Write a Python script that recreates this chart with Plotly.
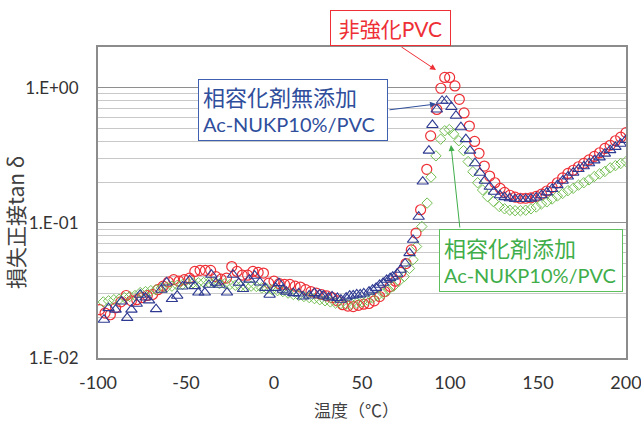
import plotly.graph_objects as go

# ---- data ----
T_red = [-99, -96, -93, -90, -87, -84, -81, -78, -75, -72, -69, -66, -63, -60, -57, -54, -51, -48,
         -45, -42, -39, -36, -33, -30, -27, -24, -21, -18, -15, -12, -9, -6, -3, 0, 3, 6, 9, 12,
         15, 18, 21, 24, 27, 30, 33, 36, 39, 42, 45, 48, 51, 54, 57, 60, 63, 66, 69, 72, 75, 78,
         80.7, 83.3, 86.8, 89, 92.5, 94.8, 97, 99.8, 102.8, 105.3, 108, 111, 114, 116.5, 119.5,
         122.5, 125.5, 128.5, 131, 134, 137, 140, 143, 146, 149, 152, 155, 158, 161, 164, 167,
         170, 173, 176, 179, 182, 185, 188, 191, 194, 197, 200]
tan_red = [0.0228, 0.0215, 0.0209, 0.0235, 0.026, 0.029, 0.0265, 0.027, 0.028, 0.029, 0.0295,
           0.032, 0.034, 0.0365, 0.038, 0.037, 0.038, 0.039, 0.0437, 0.0445, 0.0445, 0.0445,
           0.040, 0.0383, 0.039, 0.0475, 0.0437, 0.041, 0.041, 0.0437, 0.043, 0.0425, 0.0358,
           0.037, 0.0355, 0.035, 0.035, 0.034, 0.0335, 0.032, 0.031, 0.0302, 0.0295, 0.0288,
           0.028, 0.0265, 0.0248, 0.0242, 0.024, 0.0245, 0.025, 0.0253, 0.0265, 0.0285, 0.031,
           0.0338, 0.037, 0.043, 0.050, 0.063, 0.084, 0.125, 0.249, 0.44, 0.69, 0.99, 1.19, 1.19,
           1.03, 0.82, 0.65, 0.52, 0.40, 0.327, 0.263, 0.222, 0.198, 0.18, 0.168, 0.16, 0.155,
           0.152, 0.152, 0.153, 0.157, 0.163, 0.172, 0.183, 0.198, 0.215, 0.232, 0.245, 0.26,
           0.275, 0.292, 0.31, 0.33, 0.355, 0.375, 0.405, 0.43, 0.465]

T_blue = [-96.6, -94, -90, -86.6, -83.4, -81, -78, -76, -73, -71, -67, -64, -61, -58, -55, -52,
          -48, -45, -43, -39.3, -37, -35.6, -33, -30.8, -26.7, -23.3, -20, -17.6, -14, -11, -8,
          -5, -2.5, 1, 2.8, 5, 7, 11, 14, 16.5, 20, 23, 26, 28, 31, 33, 36, 38, 41, 43, 45, 47,
          49, 51, 54, 56, 58, 60, 62, 64, 66, 67.5, 70, 72, 74.5, 77, 79, 82.2, 84.5, 88, 90,
          92.5, 95.5, 98, 100.8, 103.4, 106.2, 109, 111.4, 114.2, 117, 119.8, 122.6, 125, 128.3,
          131, 134, 137, 140, 143, 146, 149, 152, 155, 158, 161, 164, 167, 170, 173, 176, 179,
          182, 185, 188, 191, 194, 197, 200]
tan_blue = [0.0192, 0.0234, 0.0228, 0.0262, 0.0198, 0.0228, 0.0252, 0.0294, 0.028, 0.0267, 0.023,
            0.032, 0.0362, 0.0273, 0.0289, 0.0338, 0.0375, 0.034, 0.0305, 0.0305, 0.0348, 0.0413,
            0.036, 0.0348, 0.0305, 0.0413, 0.036, 0.0324, 0.038, 0.0406, 0.0362, 0.033, 0.0294,
            0.033, 0.0358, 0.032, 0.031, 0.0302, 0.030, 0.0285, 0.029, 0.0302, 0.0295, 0.0289,
            0.028, 0.0285, 0.0278, 0.027, 0.028, 0.0289, 0.029, 0.0295, 0.0295, 0.030, 0.031,
            0.032, 0.033, 0.0348, 0.036, 0.0379, 0.039, 0.040, 0.042, 0.045, 0.050, 0.0597,
            0.0749, 0.111, 0.202, 0.342, 0.53, 0.69, 0.80, 0.80, 0.72, 0.62, 0.51, 0.416, 0.342,
            0.276, 0.235, 0.205, 0.185, 0.17, 0.16, 0.155, 0.152, 0.150, 0.150, 0.150, 0.151,
            0.154, 0.16, 0.168, 0.178, 0.19, 0.205, 0.22, 0.235, 0.25, 0.262, 0.276, 0.29, 0.305,
            0.325, 0.345, 0.365, 0.385, 0.41]

T_green = [-97, -94, -91, -88, -85, -82, -79, -76, -73, -70, -67, -64, -61, -58, -55, -52, -49,
           -46, -43, -40, -37, -34, -31, -28, -25, -22, -19, -16, -13, -10, -7, -4, -1, 2, 5, 8,
           11, 14, 17, 20, 23, 26, 29, 32, 35, 38, 41, 44, 47, 50, 53, 56, 59, 62, 65, 68, 71, 74,
           77, 79, 81, 84, 87, 89.2, 92, 94.7, 97, 99.6, 102, 105, 107.7, 110.3, 113, 115.7,
           118.5, 121.4, 124.6, 128, 131, 134, 137, 140, 143, 146, 149, 152, 155, 158, 161, 164,
           167, 170, 173, 176, 179, 182, 185, 188, 191, 194, 197, 200]
tan_green = [0.026, 0.0265, 0.027, 0.0272, 0.028, 0.0285, 0.029, 0.0305, 0.031, 0.0315, 0.032,
             0.033, 0.0335, 0.034, 0.0345, 0.035, 0.0355, 0.036, 0.036, 0.0362, 0.0362, 0.036,
             0.0355, 0.0354, 0.035, 0.0345, 0.0338, 0.0338, 0.034, 0.0338, 0.033, 0.0325, 0.032,
             0.0315, 0.031, 0.0302, 0.0295, 0.029, 0.0285, 0.028, 0.0275, 0.027, 0.0265, 0.026,
             0.0255, 0.0253, 0.025, 0.0252, 0.0255, 0.026, 0.0268, 0.0278, 0.029, 0.030, 0.032,
             0.034, 0.037, 0.040, 0.046, 0.0534, 0.0668, 0.0939, 0.14, 0.218, 0.313, 0.416, 0.48,
             0.49, 0.455, 0.405, 0.342, 0.284, 0.239, 0.198, 0.175, 0.156, 0.144, 0.132, 0.127,
             0.124, 0.123, 0.123, 0.124, 0.127, 0.131, 0.138, 0.143, 0.15, 0.158, 0.165, 0.173,
             0.18, 0.19, 0.198, 0.208, 0.22, 0.23, 0.24, 0.255, 0.265, 0.275, 0.284]

x_ticks = [-100, -50, 0, 50, 100, 150, 200]
x_ticktext = ["-100", "-50", "0", "50", "100", "150", "200"]
y_ticks = [0.01, 0.1, 1]
y_ticktext = ["1.E-02", "1.E-01", "1.E+00"]
y_minor = [0.02, 0.03, 0.04, 0.05, 0.06, 0.07, 0.08, 0.09,
           0.2, 0.3, 0.4, 0.5, 0.6, 0.7, 0.8, 0.9]

RED = "#ee2f36"
BLUE = "#2e3a92"
GREEN = "#74bf52"
LATIN = "Lato, 'Noto Sans CJK JP', sans-serif"
CJK = "'Noto Sans CJK JP', sans-serif"

fig = go.Figure()
fig.add_trace(go.Scatter(x=T_red, y=tan_red, mode="markers", name="非強化PVC",
                         marker=dict(symbol="circle-open", size=10, color=RED, line=dict(width=1.2))))
fig.add_trace(go.Scatter(x=T_green, y=tan_green, mode="markers", name="相容化剤添加",
                         marker=dict(symbol="diamond-open", size=8, color=GREEN, line=dict(width=1))))
fig.add_trace(go.Scatter(x=T_blue, y=tan_blue, mode="markers", name="相容化剤無添加",
                         marker=dict(symbol="triangle-up-open", size=10, color=BLUE, line=dict(width=1.1))))

fig.update_layout(
    width=641, height=421,
    margin=dict(l=98, r=15, t=47, b=63, autoexpand=False),
    plot_bgcolor="white", paper_bgcolor="white",
    showlegend=False,
    font=dict(family=LATIN, color="#333333"),
)
fig.update_xaxes(range=[-100, 200], tickvals=x_ticks, ticktext=x_ticktext, showgrid=False, zeroline=False,
                 showline=True, mirror=True, linecolor="#8c8c8c", linewidth=2, ticks="",
                 tickfont=dict(family=LATIN, size=18, color="#333333"), ticklabelstandoff=7,
                 ticklabeloverflow="allow", automargin=False)
fig.update_yaxes(type="log", range=[-2, 0.301], tickvals=y_ticks, ticktext=y_ticktext,
                 showgrid=True, gridcolor="#8f8f8f", gridwidth=1, zeroline=False,
                 showline=True, mirror=True, linecolor="#8c8c8c", linewidth=2, ticks="",
                 tickfont=dict(family=LATIN, size=17, color="#333333"), ticklabelstandoff=14,
                 ticklabeloverflow="allow", automargin=False,
                 minor=dict(tickvals=y_minor, showgrid=True, gridcolor="#c8c8c8", gridwidth=1, ticks=""))

def px_x(p):
    return (p - 98) / 528

def px_y(p):
    return (358 - p) / 311

# axis titles
fig.add_annotation(text="温度（℃）", xref="paper", yref="paper", x=px_x(356), y=px_y(409),
                   showarrow=False, xanchor="center", yanchor="middle",
                   font=dict(family=CJK, size=17, color="#404040"))
fig.add_annotation(text="損失正接tan δ", xref="paper", yref="paper", x=px_x(15), y=px_y(223),
                   showarrow=False, textangle=-90, xanchor="center", yanchor="middle",
                   font=dict(family=CJK, size=21, color="#404040"))

# label boxes
fig.add_annotation(text="非強化PVC", xref="paper", yref="paper", x=px_x(390.5), y=px_y(28),
                   showarrow=False, xanchor="center", yanchor="middle",
                   font=dict(family=LATIN, size=21, color=RED), bordercolor=RED, borderwidth=1,
                   borderpad=4, bgcolor="white", width=111, height=26)
fig.add_annotation(text="<span style='font-size:22px'>相容化剤無添加</span><br>Ac-NUKP10%/PVC",
                   xref="paper", yref="paper", x=px_x(293), y=px_y(110),
                   showarrow=False, xanchor="center", yanchor="middle", align="left",
                   font=dict(family=LATIN, size=20, color="#2f4e9c"), bordercolor="#3f5fb0", borderwidth=1,
                   borderpad=4, bgcolor="white", width=180, height=52)
fig.add_annotation(text="<span style='font-size:22px'>相容化剤添加</span><br>Ac-NUKP10%/PVC",
                   xref="paper", yref="paper", x=px_x(531), y=px_y(260.5),
                   showarrow=False, xanchor="center", yanchor="middle", align="left",
                   font=dict(family=LATIN, size=20, color="#3fae4a"), bordercolor="#5cbf5c", borderwidth=1,
                   borderpad=4, bgcolor="white", width=174, height=53)

# arrows
fig.add_annotation(text="", xref="paper", yref="paper", x=px_x(436), y=px_y(70), ax=400 - 436, ay=46 - 70,
                   axref="pixel", ayref="pixel", showarrow=True, arrowhead=2, arrowsize=1.2,
                   arrowwidth=1, arrowcolor=RED)
fig.add_annotation(text="", xref="paper", yref="paper", x=px_x(436), y=px_y(104), ax=388 - 436, ay=110 - 104,
                   axref="pixel", ayref="pixel", showarrow=True, arrowhead=2, arrowsize=1.2,
                   arrowwidth=1, arrowcolor="#2f4e9c")
fig.add_annotation(text="", xref="paper", yref="paper", x=px_x(451), y=px_y(145), ax=460 - 451, ay=229 - 145,
                   axref="pixel", ayref="pixel", showarrow=True, arrowhead=2, arrowsize=1.2,
                   arrowwidth=1, arrowcolor="#3fae4a")

fig.write_html("out.html", config={"displayModeBar": False},
               post_script="document.body.style.margin='0';document.body.style.padding='0';")
